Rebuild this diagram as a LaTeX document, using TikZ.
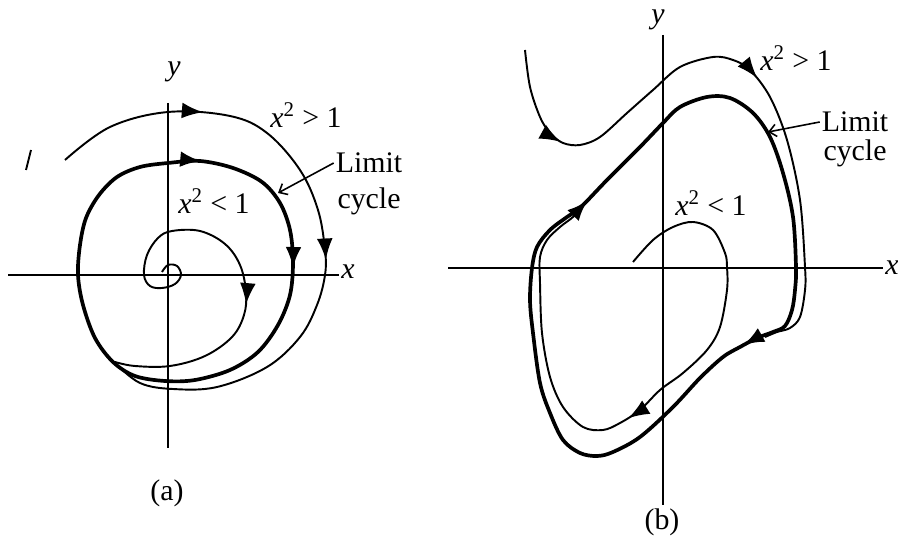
\documentclass[tikz,border=0pt]{standalone}
\usepackage{fontspec}
\setmainfont{Liberation Serif}
\usetikzlibrary{arrows.meta, decorations.markings, positioning}

\begin{document}
\begin{tikzpicture}[x=0.02cm, y=-0.02cm,
  ax/.style={line width=1.1pt},
  tr/.style={line width=1.1pt},
  lc/.style={line width=2.1pt},
  lbl/.style={font=\fontsize{17}{19}\selectfont, inner sep=1pt},
  arrowat/.style={postaction={decorate,decoration={markings,mark=at position #1 with {\arrow{Latex[length=12pt,width=9pt]}}}}},
  ptr/.style={-{Straight Barb[length=4pt,width=7pt]},line width=0.9pt}
]
  \useasboundingbox (0,0) rectangle (898,546);

  % (a)
  \node[lbl](xa) at (348,272) {\textit{x}};
  \node[lbl](ya) at (174,72) {\textit{y}};
  \coordinate (xa0) at (8,275);
  \coordinate (ya0) at (168,103);
  \coordinate (ya1) at (168,448);
  \draw[ax] (xa0) -- (xa0 -| xa.west);
  \draw[ax] (ya0) -- (ya1);

  \draw[lc, arrowat=19pt, arrowat=110pt] plot[smooth cycle, tension=0.55] coordinates {
    (140,167) (168,163) (200,161) (233,168) (262,182) (280,203) (290,230)
    (293,262) (290,295) (278,325) (258,352) (230,370) (195,380) (165,381)
    (135,376) (113,362) (95,338) (83,305) (78,275) (80,245) (86,218)
    (99,195) (117,177)};
  \draw[tr, arrowat=86pt, arrowat=207pt] plot[smooth, tension=0.6] coordinates {
    (65,160) (110,127) (168,112) (230,116) (267,133) (300,170) (318,210)
    (325,250) (325,275) (317,305) (300,337) (267,367) (217,387) (173,389)
    (140,383) (115,363)};
  \draw[tr, arrowat=147pt] plot[smooth, tension=0.6] coordinates {
    (162,272) (168,265) (177,266) (181,275) (175,284) (162,288) (150,286)
    (144,275) (147,255) (158,238) (172,231) (200,231) (225,244) (240,265)
    (246,292) (244,315) (232,337) (205,356) (170,366) (135,366) (115,362)};
  \draw[tr] (26,170) -- (31,150);

  \node[lbl](gtA) at (306,115) {\textit{x}\textsuperscript{2} > 1};
  \node[lbl](ltA) at (214,201) {\textit{x}\textsuperscript{2} < 1};
  \node[lbl](limA) at (369,163) {Limit};
  \node[lbl,below=6pt of limA](cycA) {cycle};
  \coordinate (lcA) at (278,193);
  \draw[ptr] (limA.west) -- (lcA);
  \node[lbl](capA) at (167,493) {(a)};

  % (b)
  \node[lbl](xb) at (892,268) {\textit{x}};
  \node[lbl](yb) at (658,20) {\textit{y}};
  \coordinate (xb0) at (448,268);
  \coordinate (xb1) at (883,268);
  \coordinate (yb0) at (663,35);
  \coordinate (yb1) at (663,505);
  \draw[ax] (xb0) -- (xb1);
  \draw[ax] (yb0) -- (yb1);

  \draw[lc, arrowat=52pt, arrowat=326pt] plot[smooth cycle, tension=0.55] coordinates {
    (530,300) (532,268) (537,247) (550,230) (567,217) (580,208) (607,180)
    (640,147) (663,123) (680,107) (707,97) (730,98) (753,113) (770,137)
    (783,173) (793,217) (796,267) (795,290) (792,310) (785,326) (773,332)
    (757,338) (740,347) (723,357) (700,378) (673,407) (640,437) (613,452)
    (597,456) (580,453) (563,440) (550,413) (540,383) (533,333)};
  \draw[tr, arrowat=58pt, arrowat=191pt] plot[smooth, tension=0.55] coordinates {
    (525,50) (530,87) (540,117) (550,133) (563,143) (580,145) (600,137)
    (627,113) (653,90) (680,67) (713,57) (733,60) (750,70) (770,97)
    (787,140) (800,200) (805,267) (805,290) (800,317) (790,328) (777,332)
    (765,337)};
  \draw[tr, arrowat=187pt] plot[smooth, tension=0.55] coordinates {
    (633,262) (653,240) (673,227) (693,222) (713,230) (725,253) (727,267)
    (727,290) (720,327) (707,350) (683,373) (660,390) (640,410) (620,423)
    (603,430) (583,427) (563,407) (550,377) (542,333) (540,283) (540,257)
    (547,240) (560,227) (573,217) (580,208)};

  \node[lbl](gtB) at (796,58) {\textit{x}\textsuperscript{2} > 1};
  \node[lbl](ltB) at (711,203) {\textit{x}\textsuperscript{2} < 1};
  \node[lbl](limB) at (855,122) {Limit};
  \node[lbl,below=2pt of limB](cycB) {cycle};
  \coordinate (lcB) at (768,132);
  \draw[ptr] (limB.west) -- (lcB);
  \node[lbl](capB) at (662,522) {(b)};
\end{tikzpicture}
\end{document}
